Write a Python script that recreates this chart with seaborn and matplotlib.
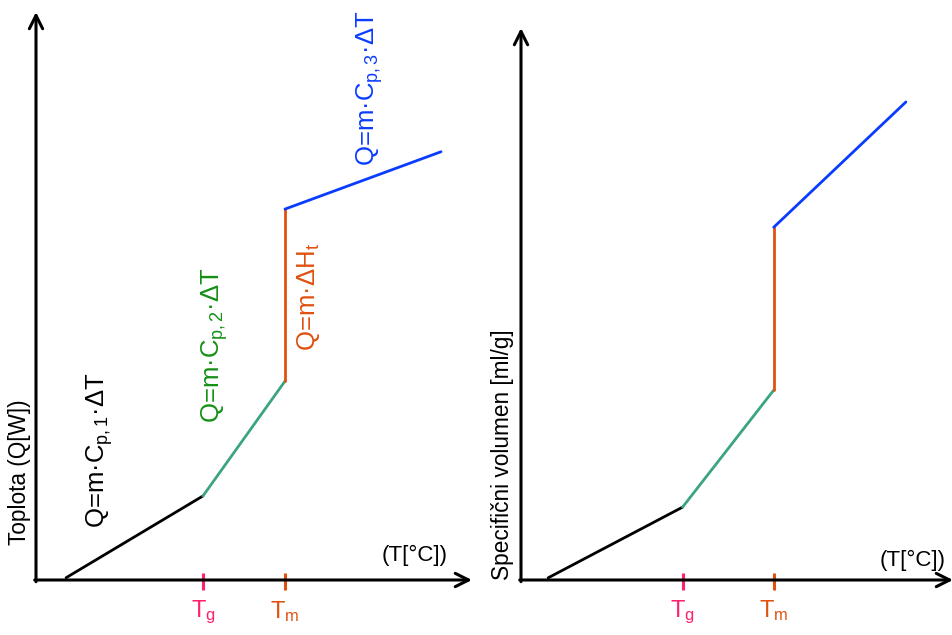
import matplotlib
matplotlib.use("Agg")
import matplotlib.pyplot as plt
import seaborn as sns
import pandas as pd

sns.set_style("white")
plt.rcParams["font.family"] = ["Liberation Sans", "DejaVu Sans"]
plt.rcParams["text.color"] = "black"
plt.rcParams["mathtext.fontset"] = "custom"
plt.rcParams["mathtext.rm"] = "Liberation Sans"
plt.rcParams["mathtext.it"] = "Liberation Sans:italic"

# Segment order: glassy solid, rubbery region, melting, melt
segments = ["solid", "rubbery", "melting", "melt"]
seg_colors = ["#000000", "#3DA57D", "#E0500F", "#0A3CFF"]

# Heat curve (left): temperature and heat, arbitrary units
heat_T = [0.69, 3.83, 3.83, 5.71, 5.71, 5.71, 5.71, 9.29]
heat_Q = [0.04, 1.48, 1.48, 3.50, 3.50, 6.53, 6.53, 7.54]
heat_tg, heat_tm = 3.83, 5.71

# Specific volume curve (right)
vol_T = [0.63, 3.74, 3.74, 5.85, 5.85, 5.85, 5.85, 8.91]
vol_V = [0.04, 1.32, 1.32, 3.44, 3.44, 6.39, 6.39, 8.66]
vol_tg, vol_tm = 3.74, 5.85

seg_of_point = ["solid", "solid", "rubbery", "rubbery", "melting", "melting", "melt", "melt"]

tick_labels = [r"$\mathrm{T_g}$", r"$\mathrm{T_m}$"]
tick_colors = ["#FF2070", "#E0500F"]

equations = ["Q=m·C$_{\\mathrm{p,1}}$·ΔT", "Q=m·C$_{\\mathrm{p,2}}$·ΔT",
             "Q=m·ΔH$_{\\mathrm{t}}$", "Q=m·C$_{\\mathrm{p,3}}$·ΔT"]
eq_colors = ["#000000", "#149014", "#E0500F", "#0A3CFF"]
eq_pos = [(1.47, 2.29), (4.10, 4.14), (6.24, 4.98), (7.66, 8.66)]

W, H = 952, 635
fig = plt.figure(figsize=(W / 100, H / 100), dpi=100)

def px_axes(x0, x1, y_top, y_bot):
    return fig.add_axes([x0 / W, 1 - y_bot / H, (x1 - x0) / W, (y_bot - y_top) / H])

ax1 = px_axes(36, 472, 12, 580)
ax2 = px_axes(521, 953, 28, 580)


def draw_panel(ax, T, Y, tg, tm):
    df = pd.DataFrame({"T": T, "Y": Y, "seg": seg_of_point})
    sns.lineplot(data=df, x="T", y="Y", hue="seg", hue_order=segments,
                 palette=dict(zip(segments, seg_colors)), estimator=None,
                 sort=False, units="seg", linewidth=2.0, legend=False, ax=ax)
    ax.set_xlim(0, 10)
    ax.set_ylim(0, 10)
    for s in ax.spines.values():
        s.set_visible(False)
    ax.set_xticks([])
    ax.set_yticks([])
    ax.set_xlabel("")
    ax.set_ylabel("")
    ax.patch.set_alpha(0)
    arrow = dict(arrowstyle="->", lw=2.2, color="black", mutation_scale=24,
                 shrinkA=0, shrinkB=0)
    ax.annotate("", xy=(1, 0), xytext=(-0.003, 0), xycoords="axes fraction",
                arrowprops=arrow, annotation_clip=False)
    ax.annotate("", xy=(0, 1), xytext=(0, -0.003), xycoords="axes fraction",
                arrowprops=arrow, annotation_clip=False)
    for xv, lab, col in zip([tg, tm], tick_labels, tick_colors):
        ax.plot([xv, xv], [0.13, -0.18], color=col, lw=2.2, clip_on=False,
                solid_capstyle="butt")
        ax.text(xv, -0.33, lab, color=col, ha="center", va="top", fontsize=17)


draw_panel(ax1, heat_T, heat_Q, heat_tg, heat_tm)
draw_panel(ax2, vol_T, vol_V, vol_tg, vol_tm)

for (x, y), txt, col in zip(eq_pos, equations, eq_colors):
    ax1.text(x, y, txt, rotation=90, color=col, fontsize=18.5,
             ha="center", va="center")

ax1.text(8.69, 0.44, "(T[°C])", ha="center", va="center", fontsize=16)
ax2.text(9.07, 0.36, "(T[°C])", ha="center", va="center", fontsize=16)

fig.text(20 / W, 1 - 472 / H, "Toplota (Q[W])", rotation=90,
         ha="center", va="center", fontsize=16.3)
fig.text(502 / W, 1 - 455 / H, "Specifični volumen [ml/g]", rotation=90,
         ha="center", va="center", fontsize=16.3)

fig.savefig("out.png", dpi=100, facecolor="white")
